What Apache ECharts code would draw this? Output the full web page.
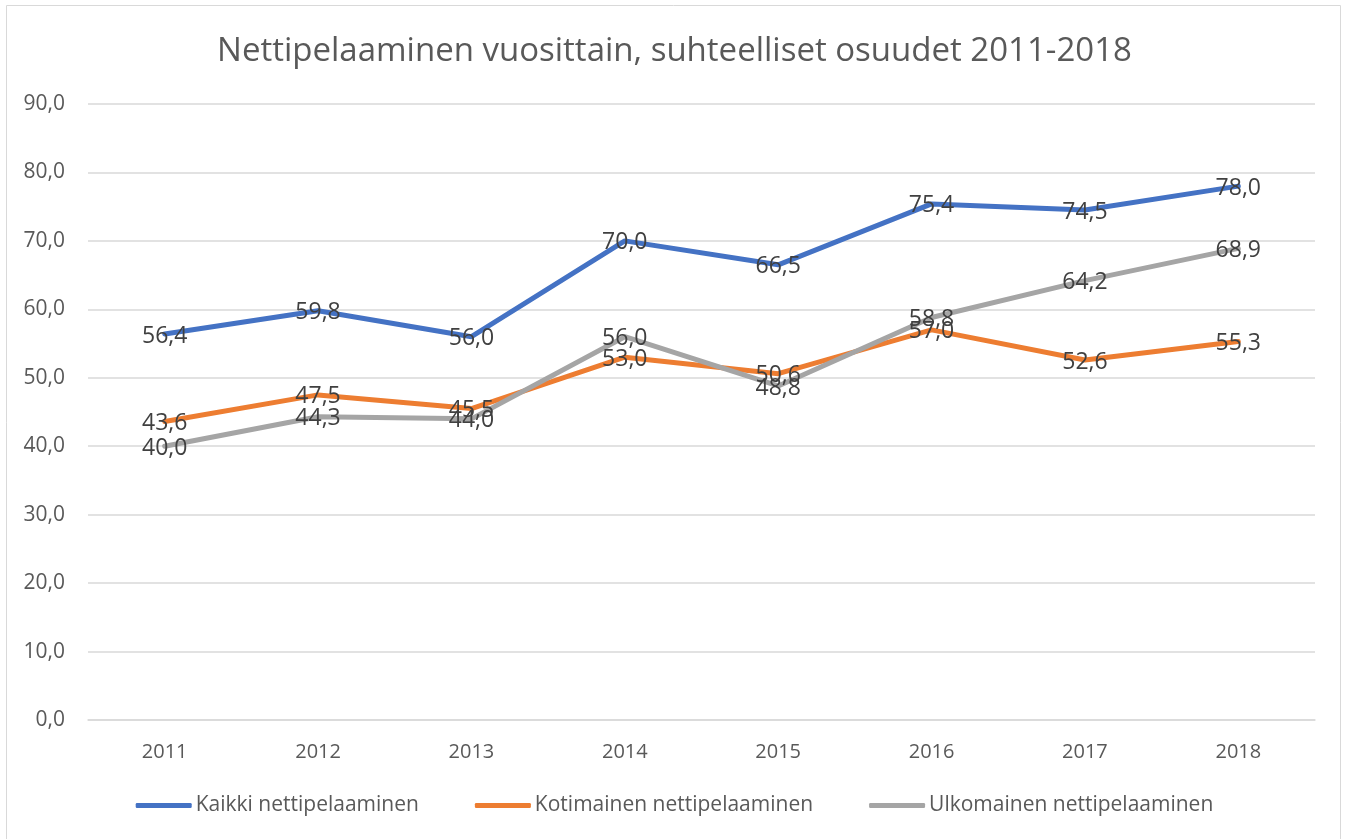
<!DOCTYPE html>
<html>
<head>
<meta charset="utf-8">
<script src="https://cdn.jsdelivr.net/npm/echarts@6/dist/echarts.min.js"></script>
<style>
  html, body { margin: 0; padding: 0; background: #fff; }
  #chart { width: 1349px; height: 839px; }
</style>
</head>
<body>
<div id="chart"></div>
<script>
const years = ['2011', '2012', '2013', '2014', '2015', '2016', '2017', '2018'];
const kaikki = [56.4, 59.8, 56.0, 70.0, 66.5, 75.4, 74.5, 78.0];
const kotimainen = [43.6, 47.5, 45.5, 53.0, 50.6, 57.0, 52.6, 55.3];
const ulkomainen = [40.0, 44.3, 44.0, 56.0, 48.8, 58.8, 64.2, 68.9];
const seriesNames = ['Kaikki nettipelaaminen', 'Kotimainen nettipelaaminen', 'Ulkomainen nettipelaaminen'];

const fmt = v => Number(v).toFixed(1).replace('.', ',');
const font = '"Open Sans", "Noto Sans", sans-serif';

function lineSeries(name, data, color) {
    return {
        name: name,
        type: 'line',
        data: data,
        symbol: 'circle',
        symbolSize: 2,
        color: color,
        lineStyle: { width: 5, color: color, cap: 'round', join: 'round' },
        label: {
            show: true,
            position: 'inside',
            offset: [0, 2],
            fontSize: 23,
            fontFamily: font,
            color: '#404040',
            formatter: p => fmt(p.value)
        }
    };
}

const chart = echarts.init(document.getElementById('chart'));
const option = {
    animation: false,
    textStyle: { fontFamily: font },
    title: {
        text: 'Nettipelaaminen vuosittain, suhteelliset osuudet 2011-2018',
        left: 'center',
        top: 30,
        textStyle: { fontSize: 33, fontWeight: 'normal', color: '#595959', fontFamily: font }
    },
    graphic: [{
        type: 'rect',
        shape: { x: 6.5, y: 5.5, width: 1334, height: 840 },
        style: { fill: 'none', stroke: '#d9d9d9', lineWidth: 1 },
        silent: true
    }],
    legend: {
        bottom: 18,
        left: 'center',
        icon: 'roundRect',
        itemWidth: 56,
        itemHeight: 5,
        itemGap: 56,
        textStyle: { fontSize: 21, color: '#595959', padding: [0, 0, 0, -1] },
        data: seriesNames
    },
    grid: { left: 88, right: 34, top: 104, bottom: 119 },
    xAxis: {
        type: 'category',
        data: years,
        axisLine: { lineStyle: { color: '#d9d9d9', width: 1.5 } },
        axisTick: { show: false },
        axisLabel: { fontSize: 20, color: '#595959', margin: 22 }
    },
    yAxis: {
        type: 'value',
        min: 0,
        max: 90,
        interval: 10,
        axisLine: { show: false },
        axisTick: { show: false },
        splitLine: { lineStyle: { color: '#d9d9d9', width: 1.5 } },
        axisLabel: { fontSize: 21, color: '#595959', margin: 23, formatter: fmt }
    },
    series: [
        lineSeries(seriesNames[0], kaikki, '#4472C4'),
        lineSeries(seriesNames[1], kotimainen, '#ED7D31'),
        lineSeries(seriesNames[2], ulkomainen, '#A5A5A5')
    ]
};
chart.setOption(option);
</script>
</body>
</html>
